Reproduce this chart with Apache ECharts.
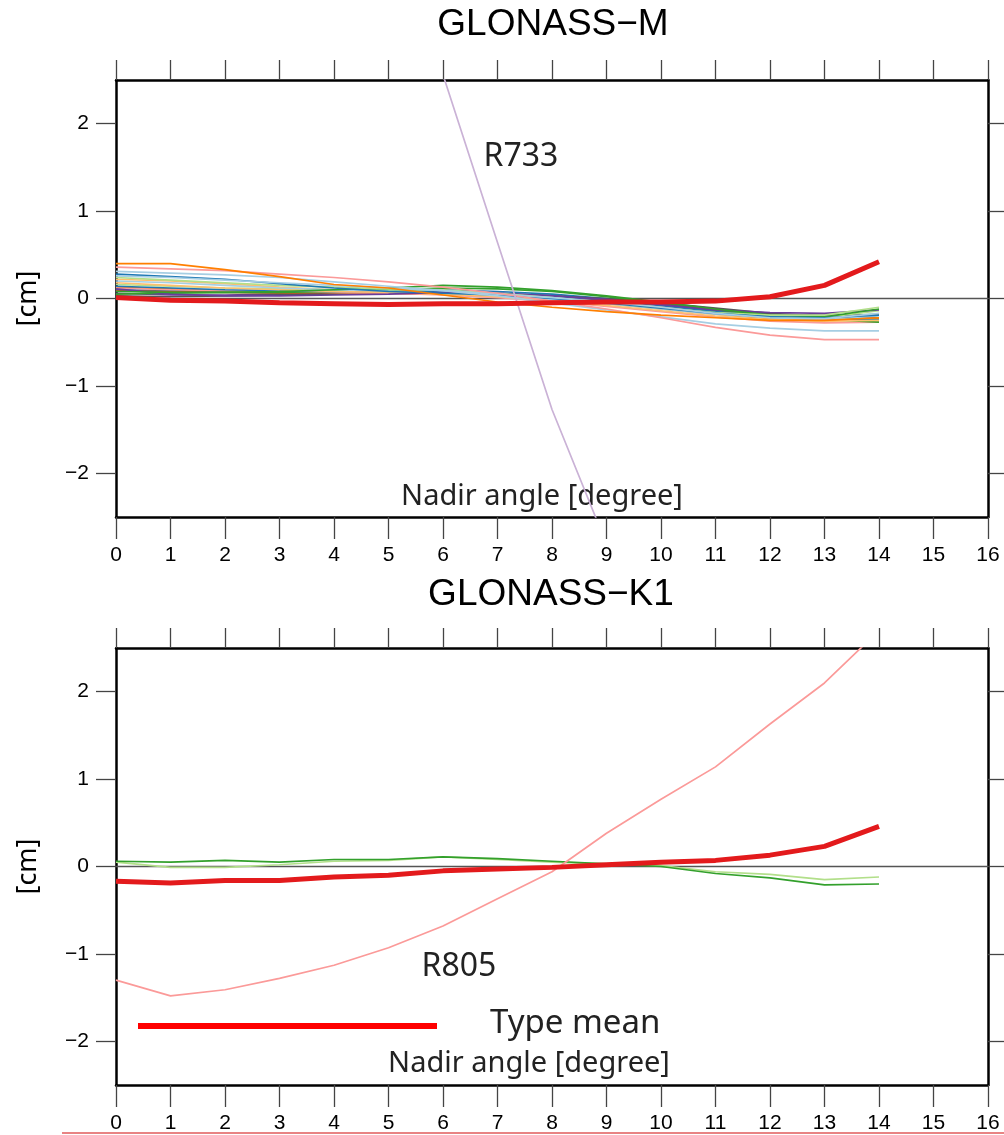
<!DOCTYPE html>
<html>
<head>
<meta charset="utf-8">
<script src="https://cdn.jsdelivr.net/npm/echarts@6/dist/echarts.min.js"></script>
<style>html,body{margin:0;padding:0;background:#fff}#c{width:1004px;height:1135px}</style>
</head>
<body>
<div id="c"></div>
<script>
// ---- data ----
var nadir = [0,1,2,3,4,5,6,7,8,9,10,11,12,13,14];
var yTicks = [-2,-1,0,1,2];
var xTicks = [0,1,2,3,4,5,6,7,8,9,10,11,12,13,14,15,16];

// GLONASS-M satellites
var mOrange   = [0.40,0.40,0.33,0.25,0.16,0.12,0.04,-0.04,-0.10,-0.15,-0.19,-0.22,-0.25,-0.25,-0.22];
var mPink     = [0.36,0.34,0.32,0.28,0.24,0.19,0.13,0.06,-0.03,-0.12,-0.22,-0.33,-0.42,-0.47,-0.47];
var mLBlue    = [0.31,0.29,0.27,0.24,0.19,0.14,0.09,0.03,-0.05,-0.13,-0.21,-0.29,-0.34,-0.37,-0.37];
var mBlue     = [0.28,0.25,0.22,0.17,0.12,0.08,0.06,0.04,0.00,-0.05,-0.11,-0.17,-0.21,-0.22,-0.19];
var mLGreen   = [0.24,0.21,0.18,0.15,0.13,0.11,0.10,0.06,0.01,-0.05,-0.11,-0.16,-0.19,-0.19,-0.10];
var mGreen    = [0.08,0.07,0.07,0.08,0.10,0.12,0.15,0.13,0.09,0.03,-0.04,-0.12,-0.19,-0.21,-0.12];
var mPurple   = [0.11,0.05,0.03,0.03,0.04,0.05,0.07,0.06,0.03,-0.01,-0.07,-0.13,-0.16,-0.17,-0.13];
var mLOrange  = [0.18,0.15,0.12,0.10,0.08,0.07,0.05,0.02,-0.03,-0.08,-0.14,-0.20,-0.24,-0.26,-0.25];
var mLBlue2   = [0.20,0.18,0.15,0.12,0.10,0.08,0.06,0.03,-0.01,-0.06,-0.12,-0.18,-0.22,-0.24,-0.20];
var mBlue2    = [0.14,0.12,0.10,0.09,0.08,0.08,0.08,0.06,0.03,-0.02,-0.08,-0.15,-0.21,-0.24,-0.24];
var mLGreen2  = [0.16,0.14,0.12,0.11,0.10,0.09,0.08,0.05,0.01,-0.04,-0.10,-0.16,-0.21,-0.22,-0.14];
var mGreen2   = [0.05,0.06,0.07,0.07,0.08,0.10,0.12,0.11,0.08,0.02,-0.05,-0.13,-0.21,-0.24,-0.27];
var mPink2    = [0.12,0.10,0.09,0.08,0.07,0.06,0.04,0.01,-0.03,-0.09,-0.15,-0.21,-0.26,-0.28,-0.27];
var mLOrange2 = [0.22,0.20,0.17,0.13,0.10,0.08,0.06,0.04,0.00,-0.05,-0.11,-0.17,-0.23,-0.25,-0.23];
var mOrange2  = [0.13,0.11,0.09,0.08,0.07,0.06,0.05,0.03,-0.01,-0.06,-0.12,-0.18,-0.23,-0.26,-0.23];
var mPurple2  = [0.06,0.04,0.04,0.05,0.06,0.07,0.07,0.06,0.03,-0.02,-0.08,-0.14,-0.18,-0.19,-0.19];
var mBrown    = [0.09,0.08,0.07,0.06,0.06,0.06,0.05,0.03,0.00,-0.05,-0.10,-0.16,-0.21,-0.23,-0.22];
var mGray     = [0.03,0.02,0.03,0.04,0.05,0.06,0.06,0.05,0.03,0.00,-0.05,-0.11,-0.17,-0.20,-0.18];
var mLBlue3   = [0.26,0.24,0.21,0.18,0.15,0.12,0.09,0.05,0.01,-0.04,-0.10,-0.17,-0.22,-0.23,-0.17];
var mBlue3    = [0.10,0.09,0.08,0.08,0.09,0.10,0.10,0.08,0.05,0.00,-0.06,-0.13,-0.19,-0.21,-0.25];
var mR733     = [null,null,null,null,null,null,2.56,0.64,-1.27,-2.81,null,null,null,null,null];
var mMean     = [0.01,-0.02,-0.03,-0.05,-0.06,-0.07,-0.06,-0.06,-0.05,-0.04,-0.04,-0.03,0.02,0.15,0.42];

// GLONASS-K1 satellites
var kGreen    = [0.06,0.05,0.07,0.05,0.08,0.08,0.11,0.09,0.06,0.03,0.00,-0.08,-0.13,-0.21,-0.20];
var kLGreen   = [0.05,-0.01,-0.01,0.02,0.06,0.07,0.11,0.08,0.05,0.03,0.01,-0.06,-0.09,-0.15,-0.12];
var kR805     = [-1.30,-1.48,-1.41,-1.28,-1.13,-0.93,-0.68,-0.37,-0.06,0.38,0.77,1.14,1.63,2.10,2.70];
var kMean     = [-0.17,-0.19,-0.16,-0.16,-0.12,-0.10,-0.05,-0.03,-0.01,0.02,0.05,0.07,0.13,0.23,0.46];

var mSats = [
  ['#1f78b4', mBlue3],['#6a3d9a', mPurple2],['#b15928', mBrown],['#555555', mGray],
  ['#fdbf6f', mLOrange2],['#ff7f00', mOrange2],['#fb9a99', mPink2],['#33a02c', mGreen2],
  ['#b2df8a', mLGreen2],['#1f78b4', mBlue2],['#a6cee3', mLBlue2],['#fdbf6f', mLOrange],
  ['#6a3d9a', mPurple],['#33a02c', mGreen],['#b2df8a', mLGreen],['#1f78b4', mBlue],
  ['#a6cee3', mLBlue3],['#a6cee3', mLBlue],['#fb9a99', mPink],['#ff7f00', mOrange]
];

function pairs(arr){ return nadir.map(function(x,i){ return [x, arr[i]]; }); }
function fmt(v){ return v < 0 ? '\u2212' + Math.abs(v) : String(v); }

var tickStyle = {color:'#444', width:1.3};
var frame = {show:true, onZero:false, lineStyle:{color:'#000', width:2.5}};
var lblFont = {fontFamily:'"Liberation Sans Narrow", "Liberation Sans"', fontSize:21, color:'#000'};

function xAxes(gi){
  return [
    {gridIndex:gi, type:'value', min:0, max:16, interval:1, position:'bottom',
     axisLine:frame, axisTick:{show:true, inside:false, length:22, lineStyle:tickStyle},
     axisLabel:Object.assign({margin:28}, lblFont), splitLine:{show:false}},
    {gridIndex:gi, type:'value', min:0, max:16, interval:1, position:'top',
     axisLine:frame, axisTick:{show:true, inside:false, length:20, lineStyle:tickStyle},
     axisLabel:{show:false}, splitLine:{show:false}}
  ];
}
function yAxes(gi){
  return [
    {gridIndex:gi, type:'value', min:-2.5, max:2.5, position:'left',
     name:'[cm]', nameLocation:'middle', nameGap:74, nameRotate:90,
     nameTextStyle:{fontFamily:'Noto Sans', fontSize:27, color:'#000'},
     axisLine:frame,
     axisTick:{show:true, inside:false, length:20, lineStyle:tickStyle, customValues:yTicks},
     axisLabel:Object.assign({margin:27, customValues:yTicks, formatter:fmt}, lblFont),
     splitLine:{show:false}},
    {gridIndex:gi, type:'value', min:-2.5, max:2.5, position:'right',
     axisLine:frame,
     axisTick:{show:true, inside:false, length:20, lineStyle:tickStyle, customValues:yTicks},
     axisLabel:{show:false}, splitLine:{show:false}}
  ];
}

function thin(color, data, ax){
  return {type:'line', xAxisIndex:ax, yAxisIndex:ax, data:pairs(data), symbol:'none',
    smooth:false, silent:true, z:2, clip:true,
    lineStyle:{color:color, width:1.7}};
}

var series = [];
// zero lines
[0,2].forEach(function(ax){
  series.push({type:'line', xAxisIndex:ax, yAxisIndex:ax, data:[[0,0],[16,0]], symbol:'none',
    silent:true, z:1, lineStyle:{color:'#555', width:1.5}});
});
mSats.forEach(function(s){ series.push(thin(s[0], s[1], 0)); });
series.push(thin('#cab2d6', mR733, 0));
series.push({type:'line', xAxisIndex:0, yAxisIndex:0, data:pairs(mMean), symbol:'none', silent:true, z:5,
  lineStyle:{color:'#e31a1c', width:5}});

series.push(thin('#b2df8a', kLGreen, 2));
series.push(thin('#33a02c', kGreen, 2));
series.push(thin('#fb9a99', kR805, 2));
series.push({type:'line', xAxisIndex:2, yAxisIndex:2, data:pairs(kMean), symbol:'none', silent:true, z:5,
  lineStyle:{color:'#e31a1c', width:5}});

var titleFont = {fontFamily:'Liberation Sans', fontSize:37, fontWeight:'normal', color:'#000'};
var chart = echarts.init(document.getElementById('c'), null, {renderer:'canvas'});
chart.setOption({
  animation:false,
  backgroundColor:'#fff',
  title:[
    {text:'GLONASS\u2212M', left:548, top:1, textAlign:'center', textStyle:titleFont},
    {text:'GLONASS\u2212K1', left:546, top:571, textAlign:'center', textStyle:titleFont}
  ],
  grid:[
    {left:116, top:80, width:872, height:437},
    {left:116, top:648, width:872, height:437}
  ],
  xAxis: xAxes(0).concat(xAxes(1)),
  yAxis: yAxes(0).concat(yAxes(1)),
  series: series,
  graphic:[
    {type:'text', x:542, y:497, style:{text:'Nadir angle [degree]', font:'29px "Noto Sans"', fill:'#222', align:'center', verticalAlign:'middle'}},
    {type:'text', x:521, y:157, style:{text:'R733', font:'32px "Noto Sans"', fill:'#222', align:'center', verticalAlign:'middle'}},
    {type:'text', x:529, y:1064, style:{text:'Nadir angle [degree]', font:'29px "Noto Sans"', fill:'#222', align:'center', verticalAlign:'middle'}},
    {type:'text', x:459, y:967, style:{text:'R805', font:'32px "Noto Sans"', fill:'#222', align:'center', verticalAlign:'middle'}},
    {type:'line', shape:{x1:138, y1:1026, x2:437, y2:1026}, style:{stroke:'#ff0000', lineWidth:6}},
    {type:'text', x:490, y:1024, style:{text:'Type mean', font:'33px "Noto Sans"', fill:'#222', align:'left', verticalAlign:'middle'}},
    {type:'line', shape:{x1:62, y1:1133, x2:1004, y2:1133}, style:{stroke:'#e05a5a', lineWidth:1.5}}
  ]
});
</script>
</body>
</html>
